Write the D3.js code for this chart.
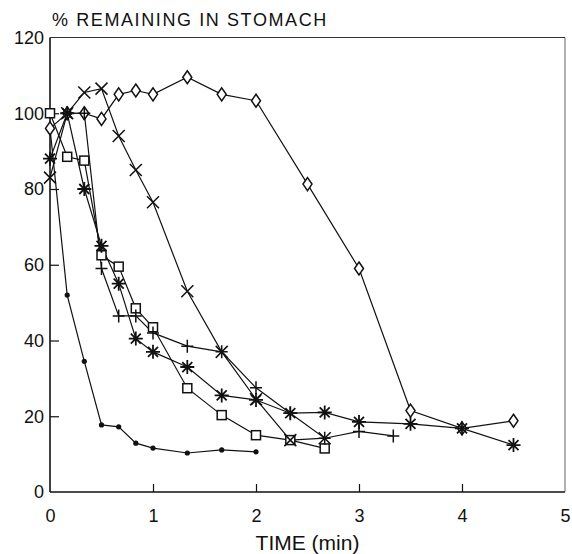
<!DOCTYPE html>
<html>
<head>
<meta charset="utf-8">
<script src="https://cdn.jsdelivr.net/npm/d3@7"></script>
<style>
  body { margin: 0; background: #fff; }
  text { font-family: "Liberation Sans", Arial, sans-serif; fill: #111; }
</style>
</head>
<body>
<div class="chart-container"></div>
<script>
const width = 572, height = 554;

// time (min), % remaining
var squareData  = [[0,100],[0.167,88.5],[0.333,87.5],[0.5,62.5],[0.667,59.5],[0.833,48.5],[1,43.5],[1.333,27.4],[1.667,20.3],[2,15],[2.333,13.7],[2.667,11.5]];
var diamondData = [[0,96],[0.167,100],[0.333,100],[0.5,98.5],[0.667,105],[0.833,106],[1,105],[1.333,109.5],[1.667,105],[2,103.3],[2.5,81.3],[3,59],[3.5,21.5],[4,16.8],[4.5,18.8]];
var crossData   = [[0,83],[0.167,100],[0.333,105.5],[0.5,106.5],[0.667,94],[0.833,85],[1,76.5],[1.333,53],[1.667,37],[2,24.5],[2.333,13.7],[2.667,14.2]];
var plusData    = [[0.167,100],[0.333,100],[0.5,59],[0.667,46.5],[0.833,46.5],[1,42],[1.333,38.5],[1.667,37],[2,27.5],[2.333,20.8],[2.667,14.2],[3,16],[3.333,14.8]];
var starData    = [[0,88],[0.167,100],[0.333,80],[0.5,65],[0.667,55],[0.833,40.5],[1,37],[1.333,33],[1.667,25.5],[2,24.3],[2.333,20.8],[2.667,21],[3,18.5],[3.5,18],[4,16.8],[4.5,12.4]];
var dotData     = [[0,96],[0.167,52],[0.333,34.5],[0.5,17.7],[0.667,17.2],[0.833,12.9],[1,11.6],[1.333,10.3],[1.667,11.1],[2,10.6]];

var xTicks = [0, 1, 2, 3, 4, 5];
var yTicks = [0, 20, 40, 60, 80, 100, 120];

var series = [
    {data: dotData, marker: "dot"},
    {data: squareData, marker: "square"},
    {data: diamondData, marker: "diamond"},
    {data: crossData, marker: "cross"},
    {data: plusData, marker: "plus"},
    {data: starData, marker: "star"}
];

var svg = d3.select(".chart-container")
    .append("svg")
    .attr("width", width)
    .attr("height", height);

var x = d3.scaleLinear().domain([0, 5]).range([50, 565]);
var y = d3.scaleLinear().domain([0, 120]).range([492, 37.5]);

// axes, ticks point inward
var xAxis = svg.append("g")
    .attr("transform", "translate(0," + y(0) + ")")
    .call(d3.axisBottom(x).tickValues(xTicks).tickFormat(d3.format("d"))
        .tickSizeInner(-8).tickSizeOuter(0).tickPadding(17));
var yAxis = svg.append("g")
    .attr("transform", "translate(" + x(0) + ",0)")
    .call(d3.axisLeft(y).tickValues(yTicks).tickFormat(d3.format("d"))
        .tickSizeInner(-9).tickSizeOuter(0).tickPadding(6));

[xAxis, yAxis].forEach(a => {
    a.select(".domain").remove();
    a.selectAll("line").attr("stroke", "#111").attr("stroke-width", 1.2);
    a.selectAll("text").style("font-size", "18px").attr("fill", "#111");
});
xAxis.selectAll(".tick").filter(d => d == 0 || d == 5).select("line").remove();
yAxis.selectAll(".tick").filter(d => d == 0 || d == 120).select("line").remove();

// frame: heavier left/bottom, light top/right
svg.append("line").attr("x1", x(0)).attr("x2", x(0)).attr("y1", y(120)).attr("y2", y(0))
    .attr("stroke", "#111").attr("stroke-width", 1.6);
svg.append("line").attr("x1", x(0)).attr("x2", x(5)).attr("y1", y(0)).attr("y2", y(0))
    .attr("stroke", "#111").attr("stroke-width", 1.6);
svg.append("line").attr("x1", x(0)).attr("x2", x(5)).attr("y1", y(120)).attr("y2", y(120))
    .attr("stroke", "#333").attr("stroke-width", 1);
svg.append("line").attr("x1", x(5)).attr("x2", x(5)).attr("y1", y(120)).attr("y2", y(0))
    .attr("stroke", "#555").attr("stroke-width", 0.9);

// titles
svg.append("text")
    .attr("x", 52).attr("y", 26)
    .style("font-size", "18px")
    .style("letter-spacing", "1.6px")
    .text("% REMAINING IN STOMACH");
svg.append("text")
    .attr("x", x(2.5)).attr("y", 550)
    .attr("text-anchor", "middle")
    .style("font-size", "21px")
    .text("TIME (min)");

var line = d3.line().x(d => x(d[0])).y(d => y(d[1]));

var plot = svg.append("g");
series.forEach(s => {
    plot.append("path")
        .datum(s.data)
        .attr("d", line)
        .attr("fill", "none")
        .attr("stroke", "#111")
        .attr("stroke-width", 1.2);
});

function drawMarker(g, type) {
    if (type == "dot") {
        g.append("circle").attr("r", 2.6).attr("fill", "#111");
    } else if (type == "square") {
        g.append("rect").attr("x", -4.5).attr("y", -4.5).attr("width", 9).attr("height", 9)
            .attr("fill", "#fff").attr("stroke", "#111").attr("stroke-width", 1.5);
    } else if (type == "diamond") {
        g.append("path").attr("d", "M0,-6.5L4.5,0L0,6.5L-4.5,0Z")
            .attr("fill", "#fff").attr("stroke", "#111").attr("stroke-width", 1.5);
    } else if (type == "cross") {
        g.append("path").attr("d", "M-6,-6L6,6M-6,6L6,-6")
            .attr("stroke", "#111").attr("stroke-width", 1.5);
    } else if (type == "plus") {
        g.append("path").attr("d", "M-6,0L6,0M0,-6.5L0,6.5")
            .attr("stroke", "#111").attr("stroke-width", 1.5);
    } else if (type == "star") {
        g.append("path").attr("d", "M-7,0L7,0M0,-7L0,7M-5,-5L5,5M-5,5L5,-5")
            .attr("stroke", "#111").attr("stroke-width", 1.8);
    }
}

series.forEach(s => {
    plot.append("g").selectAll("g")
        .data(s.data)
        .enter()
        .append("g")
        .attr("transform", d => "translate(" + x(d[0]) + "," + y(d[1]) + ")")
        .each(function() { drawMarker(d3.select(this), s.marker); });
});
</script>
</body>
</html>
